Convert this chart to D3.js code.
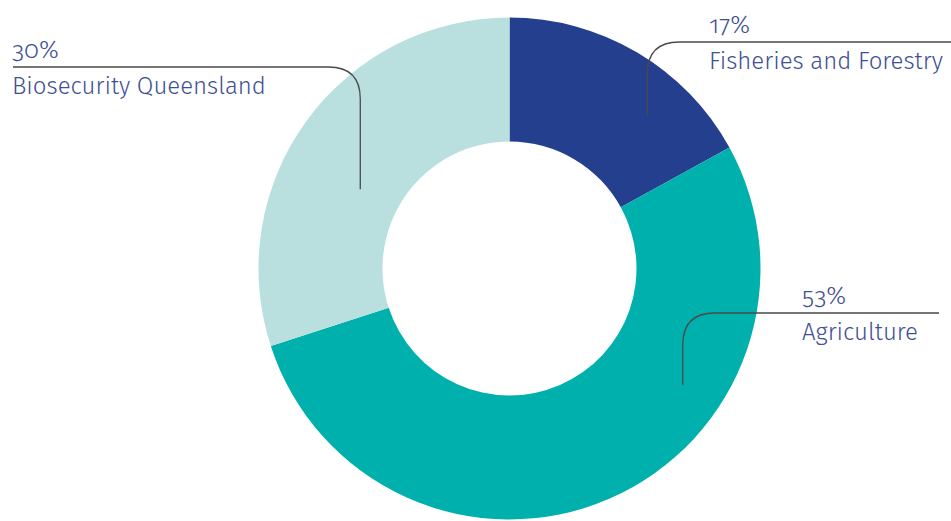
<!DOCTYPE html>
<html>
<head>
<meta charset="utf-8">
<script src="https://cdn.jsdelivr.net/npm/d3@7"></script>
<style>
  html, body { margin: 0; padding: 0; background: #fff; }
  svg { display: block; }
</style>
</head>
<body>
<div id="chart"></div>
<script>
// data
const categories = ["Fisheries and Forestry", "Agriculture", "Biosecurity Queensland"];
const shares = [17, 53, 30];
const colors = ["#253f8f", "#00b0ad", "#b9e0df"];

// label annotation layout: anchor inside slice (angle deg, radius), elbow point, text position
const labelLayout = [
  { angle: 42, r: 206, lineY: 42, lineEnd: 951, textX: 709, dir: 1 },
  { angle: 124, r: 209, lineY: 313, lineEnd: 939, textX: 802, dir: 1 },
  { angle: 298, r: 169, lineY: 67, lineEnd: 13, textX: 12, dir: -1 }
];

const width = 951, height = 521;
const cx = 509.5, cy = 268.5;
const outerR = 251, innerR = 127;

const svg = d3.select("#chart").append("svg")
  .attr("width", width)
  .attr("height", height);

const pie = d3.pie().sort(null).value(d => d)(shares);
const arc = d3.arc().innerRadius(innerR).outerRadius(outerR);

const g = svg.append("g").attr("transform", `translate(${cx},${cy})`);

g.selectAll("path")
  .data(pie)
  .join("path")
  .attr("d", arc)
  .attr("fill", (d, i) => colors[i]);

// leader lines + labels
const corner = 32;
labelLayout.forEach((l, i) => {
  const a = l.angle * Math.PI / 180;
  const x0 = cx + l.r * Math.sin(a);
  const y0 = cy - l.r * Math.cos(a);
  const path = d3.path();
  path.moveTo(x0, y0);
  path.lineTo(x0, l.lineY + corner);
  path.quadraticCurveTo(x0, l.lineY, x0 + l.dir * corner, l.lineY);
  path.lineTo(l.lineEnd, l.lineY);
  svg.append("path")
    .attr("d", path.toString())
    .attr("fill", "none")
    .attr("stroke", "#4a4a4a")
    .attr("stroke-width", 1.3);

  const t = svg.append("g")
    .attr("font-family", "'Fira Sans', 'Open Sans', sans-serif")
    .attr("font-weight", 300)
    .attr("fill", "#3e4f93")
    .attr("font-size", 24);
  t.append("text").attr("x", l.textX).attr("y", l.lineY - 9)
    .style("font-variant-numeric", "oldstyle-nums")
    .attr("font-size", 25)
    .text(shares[i] + "%");
  t.append("text").attr("x", l.textX).attr("y", l.lineY + 27).text(categories[i]);
});
</script>
</body>
</html>
